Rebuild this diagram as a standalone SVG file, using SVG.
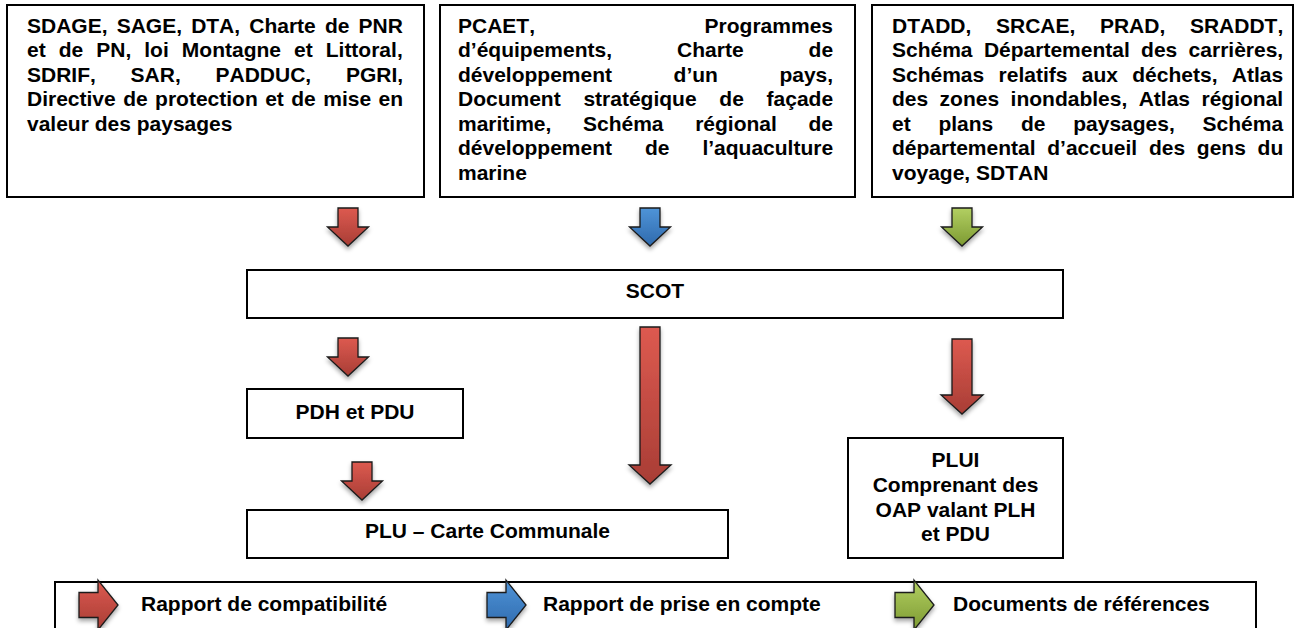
<svg xmlns="http://www.w3.org/2000/svg" width="1304" height="628" viewBox="0 0 1304 628">
<style>
  .box { fill: #ffffff; stroke: #000000; stroke-width: 2; }
  text { font-family: "Liberation Sans", Arial, sans-serif; font-weight: bold; font-size: 21px; fill: #000000; font-kerning: none; }
  .c { text-anchor: middle; }
  .e { text-anchor: end; }
  .arr { stroke: #1a1a1a; stroke-width: 1.3; stroke-linejoin: miter; filter: url(#shadow); }
  .red { fill: url(#gRed); }
  .blue { fill: url(#gBlue); }
  .green { fill: url(#gGreen); }
</style>
<defs>
  <linearGradient id="gRed" x1="0" y1="0" x2="0" y2="1">
    <stop offset="0" stop-color="#dd5a50"/>
    <stop offset="1" stop-color="#a83d35"/>
  </linearGradient>
  <linearGradient id="gBlue" x1="0" y1="0" x2="0" y2="1">
    <stop offset="0" stop-color="#4f94d8"/>
    <stop offset="1" stop-color="#2f6aad"/>
  </linearGradient>
  <linearGradient id="gGreen" x1="0" y1="0" x2="0" y2="1">
    <stop offset="0" stop-color="#b2cf62"/>
    <stop offset="1" stop-color="#7d9a32"/>
  </linearGradient>
  <filter id="shadow" x="-30%" y="-20%" width="160%" height="150%">
    <feDropShadow dx="0" dy="3" stdDeviation="2" flood-color="#000000" flood-opacity="0.35"/>
  </filter>
  <path id="downSmall" d="M-10,0 H10 V19 H20.5 L0,38 L-20.5,19 H-10 Z"/>
  <path id="rightLegend" d="M0,-12.5 H19 V-25 L39,0 L19,25 V12.5 H0 Z"/>
</defs>

<g id="box-compatibilite">
  <rect class="box" x="7" y="5" width="417" height="192"/>
  <text x="27" y="32.5" style="word-spacing:3.3px">SDAGE, SAGE, DTA, Charte de PNR</text>
  <text x="27" y="57" style="word-spacing:7.2px">et de PN, loi Montagne et Littoral,</text>
  <text x="27" y="81.5" style="word-spacing:28.9px">SDRIF, SAR, PADDUC, PGRI,</text>
  <text x="27" y="106" style="word-spacing:1.6px">Directive de protection et de mise en</text>
  <text x="27" y="130.5">valeur des paysages</text>
</g>

<g id="box-prise-en-compte">
  <rect class="box" x="440" y="5" width="415" height="192"/>
  <text x="458" y="32.5">PCAET,</text>
  <text class="e" x="833" y="32.5">Programmes</text>
  <text x="458" y="57" style="word-spacing:59.2px">d’équipements, Charte de</text>
  <text x="458" y="81.5" style="word-spacing:55.7px">développement d’un pays,</text>
  <text x="458" y="106" style="word-spacing:16.9px">Document stratégique de façade</text>
  <text x="458" y="130.5" style="word-spacing:25.8px">maritime, Schéma régional de</text>
  <text x="458" y="155" style="word-spacing:27.1px">développement de l’aquaculture</text>
  <text x="458" y="179.5">marine</text>
</g>

<g id="box-references">
  <rect class="box" x="872" y="5" width="421" height="192"/>
  <text x="892" y="32.5" style="word-spacing:18.8px">DTADD, SRCAE, PRAD, SRADDT,</text>
  <text x="892" y="57" style="word-spacing:5.5px">Schéma Départemental des carrières,</text>
  <text x="892" y="81.5" style="word-spacing:8.5px">Schémas relatifs aux déchets, Atlas</text>
  <text x="892" y="106" style="word-spacing:5.6px">des zones inondables, Atlas régional</text>
  <text x="892" y="130.5" style="word-spacing:21.9px">et plans de paysages, Schéma</text>
  <text x="892" y="155" style="word-spacing:5.9px">départemental d’accueil des gens du</text>
  <text x="892" y="179.5">voyage, SDTAN</text>
</g>

<g id="scot">
  <rect class="box" x="247" y="270" width="816" height="48"/>
  <text class="c" x="655" y="298">SCOT</text>
</g>

<g id="pdh-pdu">
  <rect class="box" x="247" y="389" width="216" height="49"/>
  <text class="c" x="355" y="419">PDH et PDU</text>
</g>

<g id="plu">
  <rect class="box" x="247" y="510" width="481" height="48"/>
  <text class="c" x="487.5" y="538">PLU – Carte Communale</text>
</g>

<g id="plui">
  <rect class="box" x="848" y="438" width="215" height="120"/>
  <text class="c" x="955.5" y="467">PLUI</text>
  <text class="c" x="955.5" y="492">Comprenant des</text>
  <text class="c" x="955.5" y="517">OAP valant PLH</text>
  <text class="c" x="955.5" y="541">et PDU</text>
</g>

<g id="connectors">
  <use href="#downSmall" class="arr red" transform="translate(348,208)"/>
  <use href="#downSmall" class="arr blue" transform="translate(650,208)"/>
  <use href="#downSmall" class="arr green" transform="translate(962,208)"/>
  <use href="#downSmall" class="arr red" transform="translate(348,338)"/>
  <use href="#downSmall" class="arr red" transform="translate(362,462)"/>
  <path class="arr red" d="M640,327 H660 V465 H671 L650,484 L629,465 H640 Z"/>
  <path class="arr red" d="M952,339 H972 V395 H983 L962,414 L941,395 H952 Z"/>
</g>

<g id="legend">
  <rect class="box" x="55" y="582" width="1201" height="60"/>
  <use href="#rightLegend" class="arr red" transform="translate(79,605)"/>
  <text x="141" y="611">Rapport de compatibilité</text>
  <use href="#rightLegend" class="arr blue" transform="translate(487,605)"/>
  <text x="543" y="611">Rapport de prise en compte</text>
  <use href="#rightLegend" class="arr green" transform="translate(895,605)"/>
  <text x="953" y="611">Documents de références</text>
</g>
</svg>
